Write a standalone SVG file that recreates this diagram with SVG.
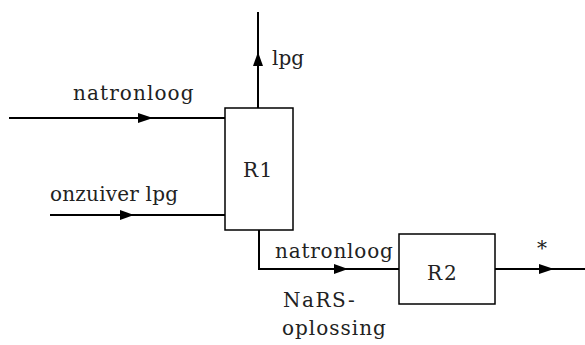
<svg xmlns="http://www.w3.org/2000/svg" width="585" height="345" viewBox="0 0 585 345">
<style>
.ln{fill:none;stroke:#000;stroke-width:2}
.box{fill:#fff;stroke:#000;stroke-width:1.5}
.ah{fill:#000;stroke:none}
</style>
<rect width="585" height="345" fill="#fff"/>
<g id="connectors">
<line class="ln" x1="258" y1="12" x2="258" y2="108"/>
<polygon class="ah" points="258,52 253,66 263,66"/>
<line class="ln" x1="9" y1="118" x2="225" y2="118"/>
<polygon class="ah" points="153,118 138,113 138,123"/>
<line class="ln" x1="50" y1="215" x2="225" y2="215"/>
<polygon class="ah" points="134,215 120,210 120,220"/>
<polyline class="ln" points="259,230 259,269 399,269"/>
<polygon class="ah" points="348,269 334,264 334,274"/>
<line class="ln" x1="495" y1="269" x2="585" y2="269"/>
<polygon class="ah" points="554,269 539,264 539,274"/>
</g>
<g font-family="DejaVu Serif" font-size="20" fill="#222">
<g id="R1">
<rect class="box" x="225" y="108" width="68" height="122"/>
<text x="243" y="177" letter-spacing="1.5">R1</text>
</g>
<g id="R2">
<rect class="box" x="399" y="234" width="96" height="70"/>
<text x="427" y="280" letter-spacing="2">R2</text>
</g>
<g id="labels">
<text x="272" y="65">lpg</text>
<text x="73" y="100" letter-spacing="1.1">natronloog</text>
<text x="50" y="201" letter-spacing="0.2">onzuiver lpg</text>
<text x="275" y="258" letter-spacing="0.8">natronloog</text>
<text x="283" y="307" letter-spacing="1.5">NaRS-</text>
<text x="282" y="335" letter-spacing="1">oplossing</text>
<text x="537" y="255">*</text>
</g>
</g>
</svg>
